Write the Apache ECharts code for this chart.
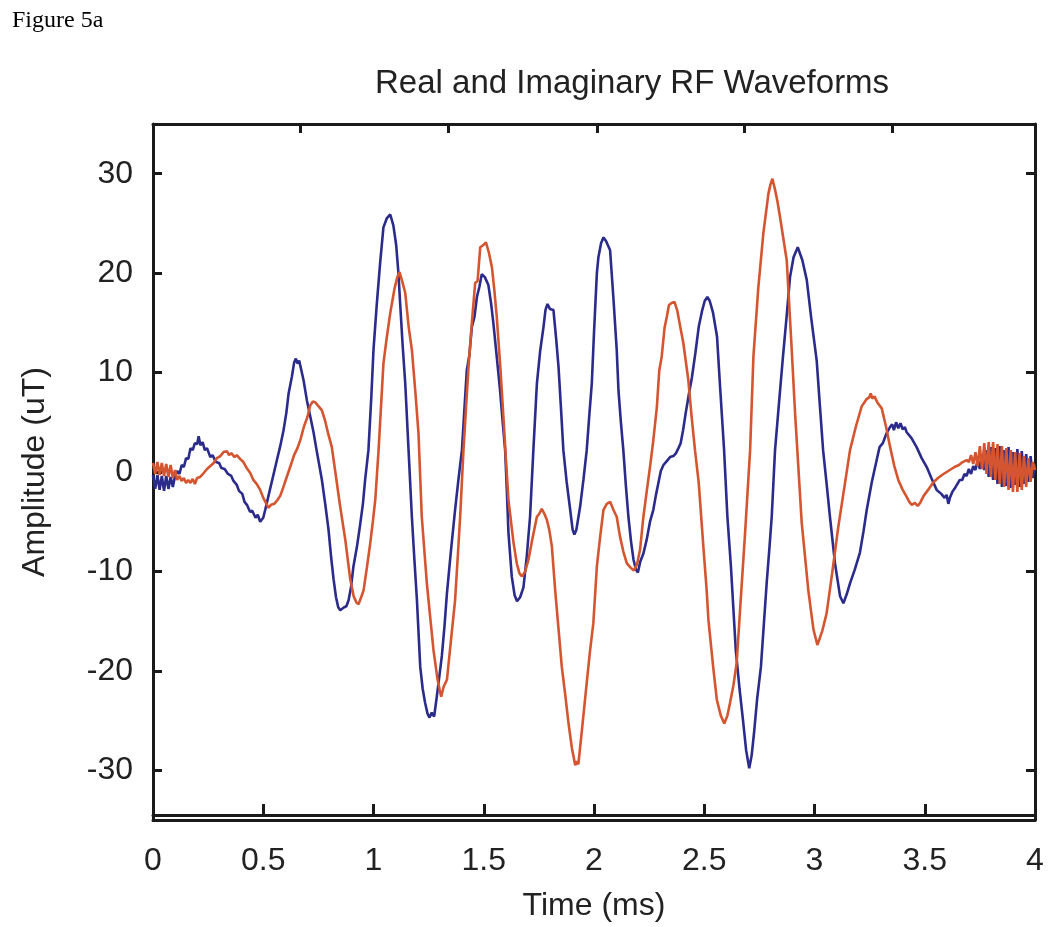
<!DOCTYPE html>
<html>
<head>
<meta charset="utf-8">
<script src="https://cdn.jsdelivr.net/npm/echarts@6/dist/echarts.min.js"></script>
<style>
html,body{margin:0;padding:0;background:#fff;}
#chart{width:1050px;height:927px;}
</style>
</head>
<body>
<div id="chart"></div>
<script>
// Time (ms) / amplitude (uT) pairs
var realPts = [[0.00,-0.3],[0.01,-1.7],[0.02,-0.3],[0.03,-1.8],[0.04,-0.4],[0.05,-1.9],[0.06,-0.4],[0.07,-1.7],[0.08,-0.5],[0.09,-1.5],[0.10,-0.4],[0.11,0.1],[0.12,-0.2],[0.13,0.7],[0.14,0.5],[0.15,1.4],[0.16,1.3],[0.17,2.4],[0.18,2.2],[0.19,2.9],[0.20,2.8],[0.207,3.6],[0.215,2.7],[0.225,3.0],[0.235,2.2],[0.245,2.4],[0.26,1.5],[0.27,1.7],[0.285,1.0],[0.30,0.9],[0.31,0.4],[0.325,0.3],[0.34,-0.2],[0.355,-0.4],[0.365,-0.9],[0.38,-1.3],[0.39,-1.9],[0.405,-2.2],[0.415,-3.0],[0.426,-3.3],[0.44,-4.0],[0.45,-3.9],[0.465,-4.6],[0.475,-4.3],[0.486,-5.0],[0.50,-4.6],[0.509,-3.8],[0.53,-1.8],[0.545,-0.4],[0.562,1.2],[0.577,2.6],[0.592,4.2],[0.605,6.0],[0.615,7.9],[0.630,9.6],[0.640,11.0],[0.648,11.4],[0.656,10.9],[0.663,11.2],[0.675,10.0],[0.683,9.2],[0.698,7.2],[0.713,5.6],[0.728,4.0],[0.745,1.8],[0.766,-0.8],[0.781,-3.2],[0.796,-5.8],[0.808,-8.6],[0.819,-10.8],[0.830,-12.6],[0.840,-13.6],[0.849,-13.9],[0.858,-14.0],[0.867,-13.6],[0.877,-13.5],[0.887,-12.9],[0.898,-11.6],[0.909,-9.5],[0.925,-7.5],[0.940,-5.2],[0.952,-3.2],[0.962,-0.8],[0.977,2.2],[0.990,7.5],[1.000,12.3],[1.015,16.9],[1.030,21.0],[1.045,24.6],[1.060,25.5],[1.076,25.9],[1.090,24.8],[1.103,22.8],[1.113,20.0],[1.121,16.9],[1.132,12.8],[1.144,8.9],[1.159,2.2],[1.174,-4.5],[1.186,-9.0],[1.197,-12.9],[1.212,-19.6],[1.223,-21.8],[1.234,-23.2],[1.245,-24.3],[1.254,-24.7],[1.264,-24.2],[1.275,-24.6],[1.287,-22.6],[1.300,-20.3],[1.310,-18.5],[1.322,-15.5],[1.333,-12.2],[1.350,-8.2],[1.370,-3.8],[1.385,-0.8],[1.401,2.2],[1.410,5.5],[1.423,10.2],[1.435,11.8],[1.446,14.6],[1.458,15.6],[1.469,17.6],[1.480,18.6],[1.491,19.9],[1.505,19.6],[1.521,18.8],[1.533,17.0],[1.544,14.9],[1.558,11.8],[1.574,8.2],[1.586,5.0],[1.597,2.2],[1.605,-2.0],[1.612,-6.1],[1.627,-10.5],[1.640,-12.4],[1.651,-13.0],[1.665,-12.6],[1.680,-11.6],[1.695,-8.5],[1.710,-4.5],[1.725,2.2],[1.741,8.9],[1.756,12.2],[1.771,14.6],[1.780,16.3],[1.789,16.9],[1.800,16.4],[1.816,16.3],[1.828,13.5],[1.839,10.6],[1.850,6.5],[1.861,2.2],[1.876,-1.0],[1.892,-3.8],[1.903,-5.8],[1.911,-6.3],[1.920,-5.8],[1.937,-3.5],[1.952,-0.8],[1.967,2.2],[1.978,5.5],[1.990,8.9],[2.000,14.0],[2.013,20.0],[2.020,21.6],[2.032,23.0],[2.043,23.6],[2.055,23.2],[2.073,22.3],[2.088,17.5],[2.103,12.3],[2.111,8.2],[2.122,5.0],[2.133,2.2],[2.145,-1.5],[2.156,-4.5],[2.168,-7.0],[2.179,-8.8],[2.190,-9.8],[2.199,-10.1],[2.210,-9.0],[2.224,-8.2],[2.239,-6.8],[2.254,-5.0],[2.269,-3.8],[2.281,-2.3],[2.292,-1.1],[2.303,0.1],[2.315,0.7],[2.330,1.1],[2.345,1.5],[2.360,1.6],[2.372,1.9],[2.383,2.4],[2.393,2.9],[2.404,4.2],[2.415,5.8],[2.430,7.8],[2.444,9.5],[2.460,12.0],[2.475,14.6],[2.490,16.2],[2.502,17.2],[2.514,17.6],[2.525,17.2],[2.540,16.0],[2.558,13.6],[2.572,8.5],[2.590,2.2],[2.605,-4.5],[2.621,-9.5],[2.643,-17.9],[2.660,-21.8],[2.674,-24.6],[2.690,-28.0],[2.704,-29.8],[2.715,-28.5],[2.726,-26.2],[2.740,-22.8],[2.757,-19.6],[2.770,-15.4],[2.783,-11.2],[2.795,-7.8],[2.806,-4.5],[2.821,2.2],[2.840,7.2],[2.857,11.6],[2.873,15.5],[2.889,19.6],[2.905,21.6],[2.924,22.6],[2.945,21.3],[2.965,19.3],[2.985,15.5],[3.010,11.2],[3.025,6.5],[3.039,2.2],[3.055,-1.2],[3.070,-4.5],[3.093,-9.2],[3.116,-12.5],[3.131,-13.2],[3.146,-12.3],[3.161,-11.2],[3.183,-9.8],[3.206,-8.1],[3.222,-6.0],[3.237,-3.8],[3.260,-1.0],[3.282,1.2],[3.295,2.5],[3.310,2.9],[3.325,3.8],[3.342,4.5],[3.352,4.8],[3.36,4.2],[3.37,5.0],[3.38,4.4],[3.39,4.9],[3.40,4.3],[3.41,4.5],[3.418,4.0],[3.44,3.4],[3.463,2.5],[3.486,1.4],[3.509,0.5],[3.53,-0.6],[3.554,-1.8],[3.575,-2.2],[3.59,-2.6],[3.599,-2.3],[3.607,-3.2],[3.614,-2.6],[3.625,-2.0],[3.64,-1.5],[3.659,-0.8],[3.67,-0.8],[3.68,-0.2],[3.69,-0.4],[3.70,0.3],[3.71,-0.2],[3.72,0.6],[3.73,0.2],[3.74,1.2],[3.75,0.3],[3.76,1.8],[3.77,0.2],[3.78,2.2],[3.79,-0.5],[3.80,2.5],[3.81,-0.8],[3.82,2.4],[3.83,-1.2],[3.84,2.6],[3.85,-1.5],[3.86,2.2],[3.87,-1.4],[3.88,2.5],[3.89,-1.6],[3.90,2.0],[3.91,-1.3],[3.92,2.3],[3.93,-1.5],[3.94,2.1],[3.95,-1.2],[3.96,1.8],[3.97,-1.0],[3.98,1.6],[3.99,-0.6],[4.00,0.8]];

var imagPts = [[0.00,0.9],[0.01,-0.2],[0.02,1.0],[0.03,-0.3],[0.04,0.9],[0.05,-0.4],[0.06,0.8],[0.07,-0.5],[0.08,0.7],[0.09,-0.6],[0.10,0.2],[0.11,-0.8],[0.12,-0.4],[0.13,-0.9],[0.14,-0.6],[0.15,-1.1],[0.16,-0.8],[0.17,-1.1],[0.18,-0.7],[0.19,-1.2],[0.20,-0.6],[0.214,-0.5],[0.23,-0.1],[0.245,0.3],[0.26,0.6],[0.275,0.9],[0.29,1.4],[0.305,1.6],[0.32,2.0],[0.335,2.1],[0.345,1.7],[0.355,1.9],[0.37,1.5],[0.38,1.7],[0.396,1.3],[0.41,1.0],[0.425,0.4],[0.441,-0.1],[0.455,-0.8],[0.47,-1.2],[0.486,-1.8],[0.50,-2.6],[0.512,-3.1],[0.524,-3.6],[0.535,-3.3],[0.55,-3.2],[0.565,-2.8],[0.577,-2.4],[0.59,-1.6],[0.605,-0.6],[0.622,0.5],[0.64,1.7],[0.655,2.4],[0.668,3.2],[0.685,4.6],[0.70,5.5],[0.713,6.7],[0.725,7.1],[0.736,7.0],[0.745,6.8],[0.755,6.5],[0.766,6.2],[0.78,5.2],[0.795,3.8],[0.811,2.5],[0.83,-0.5],[0.849,-3.5],[0.872,-6.8],[0.894,-10.7],[0.91,-12.5],[0.922,-13.1],[0.932,-13.3],[0.944,-12.6],[0.955,-11.9],[0.970,-9.6],[0.985,-7.2],[0.997,-5.0],[1.008,-2.8],[1.023,2.2],[1.045,10.9],[1.060,13.5],[1.076,16.0],[1.095,18.4],[1.108,19.6],[1.118,20.1],[1.130,19.2],[1.144,18.0],[1.160,14.5],[1.174,12.3],[1.19,8.0],[1.204,3.9],[1.219,-4.5],[1.242,-11.2],[1.258,-14.8],[1.272,-17.9],[1.290,-20.8],[1.300,-21.9],[1.307,-22.6],[1.318,-21.6],[1.333,-20.9],[1.350,-17.2],[1.370,-12.9],[1.383,-8.2],[1.393,-4.5],[1.408,2.2],[1.420,6.6],[1.431,10.6],[1.446,15.0],[1.461,19.0],[1.472,19.2],[1.484,22.6],[1.497,22.8],[1.510,23.1],[1.524,22.0],[1.537,20.6],[1.548,18.3],[1.559,15.6],[1.575,10.6],[1.589,5.6],[1.600,1.5],[1.612,-2.8],[1.635,-7.1],[1.650,-9.2],[1.662,-10.2],[1.673,-10.5],[1.688,-10.0],[1.703,-8.8],[1.72,-6.8],[1.741,-4.5],[1.752,-4.2],[1.763,-3.7],[1.775,-4.2],[1.786,-4.8],[1.797,-5.8],[1.809,-7.5],[1.824,-11.9],[1.840,-16.0],[1.854,-19.6],[1.870,-22.5],[1.884,-25.2],[1.900,-27.8],[1.915,-29.5],[1.922,-29.1],[1.929,-29.4],[1.945,-26.0],[1.967,-21.2],[1.982,-18.0],[1.997,-15.2],[2.013,-9.5],[2.028,-6.5],[2.043,-3.8],[2.058,-3.2],[2.073,-3.0],[2.088,-3.8],[2.103,-4.5],[2.118,-6.5],[2.133,-8.0],[2.149,-9.2],[2.165,-9.6],[2.181,-9.9],[2.195,-9.3],[2.209,-7.8],[2.224,-4.5],[2.240,-1.8],[2.254,0.5],[2.268,3.0],[2.285,6.5],[2.296,10.2],[2.307,11.6],[2.320,14.5],[2.330,15.6],[2.340,16.8],[2.352,17.0],[2.365,17.1],[2.378,16.2],[2.392,14.5],[2.405,13.0],[2.428,9.2],[2.443,5.5],[2.458,2.2],[2.475,-1.1],[2.497,-7.8],[2.511,-11.9],[2.519,-14.9],[2.540,-19.5],[2.557,-22.9],[2.575,-24.5],[2.591,-25.3],[2.605,-24.5],[2.617,-23.2],[2.632,-21.5],[2.647,-19.2],[2.665,-13.0],[2.685,-6.2],[2.708,2.2],[2.723,11.6],[2.745,18.5],[2.768,24.0],[2.791,28.0],[2.800,28.9],[2.809,29.5],[2.820,28.5],[2.832,27.2],[2.844,25.6],[2.874,21.3],[2.895,13.0],[2.912,5.9],[2.942,-5.1],[2.972,-11.9],[2.995,-15.8],[3.013,-17.4],[3.035,-16.0],[3.055,-14.2],[3.080,-10.2],[3.108,-5.5],[3.135,-1.6],[3.161,2.2],[3.188,4.6],[3.214,6.6],[3.235,7.3],[3.248,7.5],[3.255,7.9],[3.262,7.4],[3.272,7.6],[3.285,7.0],[3.305,6.4],[3.325,4.5],[3.343,2.5],[3.362,0.6],[3.38,-0.8],[3.40,-1.8],[3.418,-2.5],[3.43,-3.0],[3.441,-3.3],[3.455,-3.1],[3.468,-3.4],[3.479,-3.1],[3.495,-2.4],[3.515,-1.8],[3.537,-1.1],[3.56,-0.6],[3.585,-0.2],[3.614,0.2],[3.635,0.5],[3.655,0.7],[3.672,1.0],[3.690,1.2],[3.70,1.0],[3.71,1.7],[3.72,0.8],[3.73,2.0],[3.74,0.6],[3.75,2.6],[3.76,0.3],[3.77,2.9],[3.78,-0.2],[3.79,3.0],[3.80,-0.5],[3.81,3.0],[3.82,-0.8],[3.83,2.8],[3.84,-1.2],[3.85,2.6],[3.86,-1.5],[3.87,2.4],[3.88,-1.8],[3.89,2.2],[3.90,-2.0],[3.91,2.0],[3.92,-2.0],[3.93,1.9],[3.94,-1.8],[3.95,1.6],[3.96,-1.5],[3.97,1.4],[3.98,-1.0],[3.99,1.0],[4.00,0.2]];

var xTicks = [0, 0.5, 1, 1.5, 2, 2.5, 3, 3.5, 4];
var yTicks = [-30, -20, -10, 0, 10, 20, 30];
var topTicks = [0.668, 1.341, 2.013, 2.682, 3.354];
var rightTicks = [-30, -10, 10, 30];

var titleText = 'Real and Imaginary RF Waveforms';
var figLabel = 'Figure 5a';
var xName = 'Time (ms)';
var yName = 'Amplitude (uT)';

var FONT = '"Liberation Sans", Arial, Helvetica, sans-serif';
var AX = '#1a1a1a';
var chart = echarts.init(document.getElementById('chart'), null, {renderer: 'canvas'});

chart.setOption({
  animation: false,
  backgroundColor: '#ffffff',
  title: [
    {text: titleText, left: 370, top: 62, textStyle: {fontFamily: FONT, fontSize: 33, fontWeight: 'normal', color: '#222'}},
    {text: figLabel, left: 7, top: 4, textStyle: {fontFamily: '"Liberation Serif", "Times New Roman", serif', fontSize: 24, fontWeight: 'normal', color: '#000'}}
  ],
  grid: {left: 153, right: 15, top: 124, bottom: 106, containLabel: false},
  xAxis: [
    {
      type: 'value', min: 0, max: 4, position: 'bottom', offset: -5,
      name: xName, nameLocation: 'middle', nameGap: 75,
      nameTextStyle: {fontFamily: FONT, fontSize: 32, color: '#222'},
      axisLine: {show: true, onZero: false, lineStyle: {color: AX, width: 3}},
      axisTick: {show: true, inside: true, length: 11, customValues: xTicks, lineStyle: {color: AX, width: 3}},
      axisLabel: {show: true, customValues: xTicks, margin: 30, fontFamily: FONT, fontSize: 32, color: '#222'},
      splitLine: {show: false}
    },
    {
      type: 'value', min: 0, max: 4, position: 'bottom',
      axisLine: {show: true, onZero: false, lineStyle: {color: AX, width: 3}},
      axisTick: {show: false}, axisLabel: {show: false}, splitLine: {show: false}
    },
    {
      type: 'value', min: 0, max: 4, position: 'top',
      axisLine: {show: true, onZero: false, lineStyle: {color: AX, width: 3}},
      axisTick: {show: true, inside: true, length: 9, customValues: topTicks, lineStyle: {color: AX, width: 3}},
      axisLabel: {show: false}, splitLine: {show: false}
    }
  ],
  yAxis: [
    {
      type: 'value', min: -35, max: 35, position: 'left',
      name: yName, nameLocation: 'middle', nameGap: 102, nameRotate: 90,
      nameTextStyle: {fontFamily: FONT, fontSize: 32, color: '#222'},
      axisLine: {show: true, onZero: false, lineStyle: {color: AX, width: 3}},
      axisTick: {show: true, inside: true, length: 9, customValues: yTicks, lineStyle: {color: AX, width: 3}},
      axisLabel: {show: true, customValues: yTicks, margin: 20, fontFamily: FONT, fontSize: 32, color: '#222'},
      splitLine: {show: false}
    },
    {
      type: 'value', min: -35, max: 35, position: 'right',
      axisLine: {show: true, onZero: false, lineStyle: {color: AX, width: 3}},
      axisTick: {show: true, inside: true, length: 9, customValues: rightTicks, lineStyle: {color: AX, width: 3}},
      axisLabel: {show: false}, splitLine: {show: false}
    }
  ],
  series: [
    {name: 'Real', type: 'line', data: realPts, xAxisIndex: 0, yAxisIndex: 0, showSymbol: false, symbol: 'none',
     lineStyle: {color: '#2b2b8c', width: 2.6}, itemStyle: {color: '#2b2b8c'}},
    {name: 'Imaginary', type: 'line', data: imagPts, xAxisIndex: 0, yAxisIndex: 0, showSymbol: false, symbol: 'none',
     lineStyle: {color: '#d4552f', width: 2.6}, itemStyle: {color: '#d4552f'}}
  ]
});
</script>
</body>
</html>
